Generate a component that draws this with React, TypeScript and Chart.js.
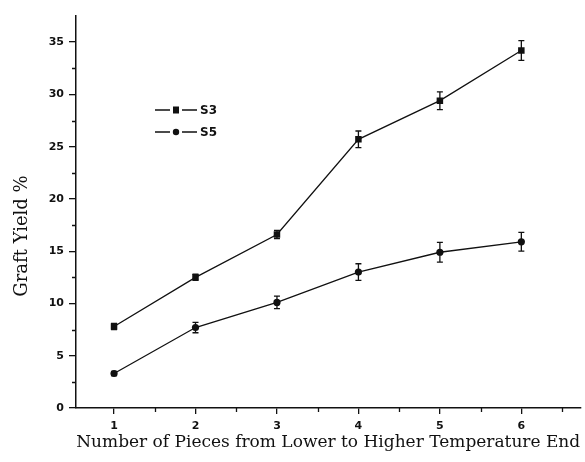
import React, { useEffect, useRef } from 'react';
import { Chart, registerables } from 'chart.js';

Chart.register(...registerables);

const pieces = [1, 2, 3, 4, 5, 6];
const s3Values = [7.8, 12.5, 16.6, 25.7, 29.4, 34.2];
const s3Errors = [0.3, 0.3, 0.4, 0.8, 0.85, 0.95];
const s5Values = [3.3, 7.7, 10.1, 13.0, 14.9, 15.9];
const s5Errors = [0.2, 0.5, 0.6, 0.8, 0.95, 0.9];
const seriesNames = ['S3', 'S5'];
const xTitle = 'Number of Pieces from Lower to Higher Temperature End';
const yTitle = 'Graft Yield %';

const errorSets = [s3Errors, s5Errors];

const extrasPlugin = {
  id: 'extras',
  afterDatasetsDraw(chart: any) {
    const ctx = chart.ctx;
    const ys = chart.scales.y;
    const xs = chart.scales.x;
    ctx.save();
    ctx.strokeStyle = '#111';
    ctx.lineWidth = 1.3;
    // error bars
    chart.data.datasets.forEach((ds: any, i: number) => {
      const meta = chart.getDatasetMeta(i);
      const errs = errorSets[i];
      meta.data.forEach((el: any, j: number) => {
        const v = ds.data[j].y;
        const e = errs[j];
        const yt = ys.getPixelForValue(v + e);
        const yb = ys.getPixelForValue(v - e);
        const x = el.x;
        ctx.beginPath();
        ctx.moveTo(x, yt);
        ctx.lineTo(x, yb);
        ctx.moveTo(x - 3, yt);
        ctx.lineTo(x + 3, yt);
        ctx.moveTo(x - 3, yb);
        ctx.lineTo(x + 3, yb);
        ctx.stroke();
      });
    });
    // minor ticks
    ctx.lineWidth = 1.3;
    ctx.beginPath();
    for (let v = 2.5; v < ys.max; v += 5) {
      const y = Math.round(ys.getPixelForValue(v)) + 0.5;
      ctx.moveTo(chart.chartArea.left, y);
      ctx.lineTo(chart.chartArea.left - 4, y);
    }
    for (let v = 1.5; v < xs.max; v += 1) {
      const x = Math.round(xs.getPixelForValue(v)) + 0.5;
      ctx.moveTo(x, chart.chartArea.bottom);
      ctx.lineTo(x, chart.chartArea.bottom + 4);
    }
    ctx.stroke();
    // y axis title
    ctx.save();
    ctx.translate(22, 236);
    ctx.rotate(-Math.PI / 2);
    ctx.fillStyle = '#111';
    ctx.font = '18px "DejaVu Serif"';
    ctx.textAlign = 'center';
    ctx.textBaseline = 'middle';
    ctx.fillText(yTitle, 0, 0);
    ctx.restore();
    // legend
    const rows = [110, 132];
    chart.data.datasets.forEach((ds: any, i: number) => {
      const y = rows[i];
      ctx.strokeStyle = '#111';
      ctx.lineWidth = 1.6;
      ctx.beginPath();
      ctx.moveTo(155, y);
      ctx.lineTo(170, y);
      ctx.moveTo(182, y);
      ctx.lineTo(197, y);
      ctx.stroke();
      ctx.fillStyle = '#111';
      if (ds.pointStyle === 'rect') {
        ctx.fillRect(173, y - 3.5, 6, 7);
      } else {
        ctx.beginPath();
        ctx.arc(176, y, 3.2, 0, Math.PI * 2);
        ctx.fill();
      }
      ctx.font = 'bold 12px "DejaVu Sans"';
      ctx.textBaseline = 'middle';
      ctx.textAlign = 'left';
      ctx.fillText(ds.label, 200, y + 1);
    });
    ctx.restore();
  },
};

export default function App() {
  const ref = useRef<HTMLCanvasElement | null>(null);
  useEffect(() => {
    const canvas = ref.current;
    if (!canvas) return;
    const mk = (vals: number[]) => pieces.map((p, i) => ({ x: p, y: vals[i] }));
    const chart = new Chart(canvas, {
      type: 'line',
      data: {
        datasets: [
          {
            label: seriesNames[0],
            data: mk(s3Values),
            borderColor: '#111',
            backgroundColor: '#111',
            borderWidth: 1.3,
            pointStyle: 'rect',
            pointRadius: 4.6,
            pointBorderWidth: 0,
            tension: 0,
          },
          {
            label: seriesNames[1],
            data: mk(s5Values),
            borderColor: '#111',
            backgroundColor: '#111',
            borderWidth: 1.3,
            pointStyle: 'circle',
            pointRadius: 3.6,
            pointBorderWidth: 0,
            tension: 0,
          },
        ],
      },
      options: {
        animation: false,
        responsive: false,
        maintainAspectRatio: false,
        layout: { padding: { top: 16, right: 0, left: 0, bottom: 0 } },
        plugins: {
          legend: { display: false },
          tooltip: { enabled: false },
        },
        scales: {
          x: {
            type: 'linear',
            min: 0.533,
            max: 6.725,
            afterFit: (s: any) => {
              s.height = 54;
            },
            border: { color: '#111', width: 1.5 },
            grid: { drawOnChartArea: false, drawTicks: true, tickLength: 6, color: '#111', lineWidth: 1.3 },
            ticks: {
              stepSize: 1,
              includeBounds: false,
              autoSkip: false,
              maxRotation: 0,
              padding: 6,
              color: '#111',
              font: { family: '"DejaVu Sans"', size: 11, weight: 'bold' },
            },
            title: {
              display: true,
              text: xTitle,
              color: '#111',
              font: { family: '"DejaVu Serif"', size: 17 },
              padding: { top: 0, bottom: 9 },
            },
          },
          y: {
            type: 'linear',
            min: 0,
            max: 37.5,
            afterFit: (s: any) => {
              s.width = 76;
            },
            border: { color: '#111', width: 1.5 },
            grid: { drawOnChartArea: false, drawTicks: true, tickLength: 7, color: '#111', lineWidth: 1.3 },
            ticks: {
              stepSize: 5,
              includeBounds: false,
              padding: 5,
              color: '#111',
              font: { family: '"DejaVu Sans"', size: 11, weight: 'bold' },
            },
            title: { display: false },
          },
        },
      },
      plugins: [extrasPlugin],
    });
    return () => chart.destroy();
  }, []);
  return (
    <div style={{ position: 'fixed', left: 0, top: 0, width: 585, height: 462, background: '#fff' }}>
      <canvas ref={ref} width={585} height={462} style={{ width: 585, height: 462, display: 'block' }} />
    </div>
  );
}
